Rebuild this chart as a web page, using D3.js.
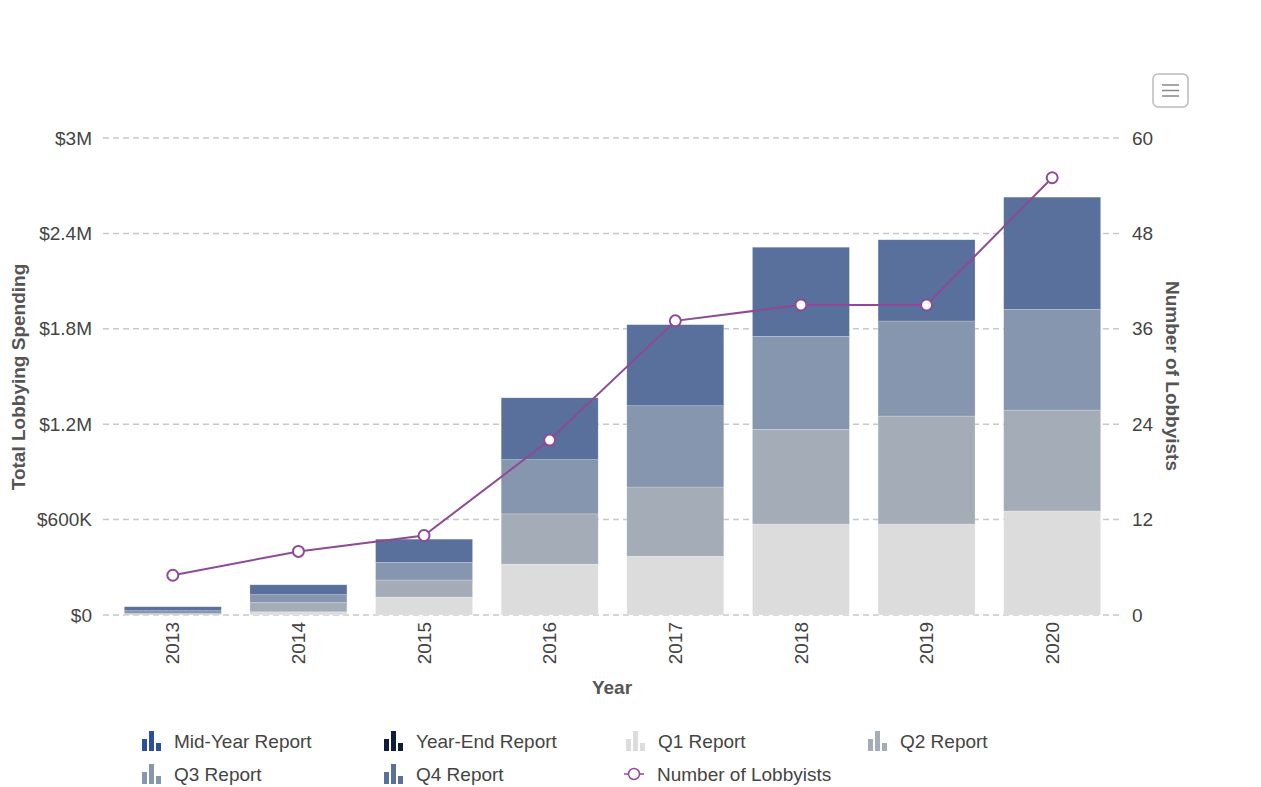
<!DOCTYPE html>
<html>
<head>
<meta charset="utf-8">
<script src="https://cdn.jsdelivr.net/npm/d3@7"></script>
<style>
  body { margin: 0; background: #fff; }
  svg { font-family: "Liberation Sans", Arial, Helvetica, sans-serif; }
</style>
</head>
<body>
<div id="chart"></div>
<script>
// data
const years = ["2013", "2014", "2015", "2016", "2017", "2018", "2019", "2020"];
const midYear = [0, 0, 0, 0, 0, 0, 0, 0];
const yearEnd = [0, 0, 0, 0, 0, 0, 0, 0];
const q1 = [3000, 20000, 113000, 320000, 370000, 572000, 572000, 654000];
const q2 = [8000, 58000, 107000, 316000, 435000, 596000, 679000, 635000];
const q3 = [16000, 50000, 111000, 341000, 511000, 585000, 598000, 633000];
const q4 = [25000, 62000, 146000, 389000, 510000, 560000, 511000, 706000];
const lobbyists = [5, 8, 10, 22, 37, 39, 39, 55];
const spendTicks = [0, 600000, 1200000, 1800000, 2400000, 3000000];
const countTicks = [0, 12, 24, 36, 48, 60];

const seriesNames = ["Mid-Year Report", "Year-End Report", "Q1 Report", "Q2 Report", "Q3 Report", "Q4 Report"];
const seriesColors = ["#2c5097", "#0f1d3b", "#dcdcdc", "#a4adb7", "#8696ae", "#58709b"];
const seriesData = [midYear, yearEnd, q1, q2, q3, q4];

const width = 1261, height = 787;
const svg = d3.select("#chart").append("svg")
    .attr("width", width)
    .attr("height", height);

const x = d3.scaleBand()
    .domain(years)
    .range([110, 1115])
    .paddingInner(0.228)
    .paddingOuter(0.114);

const yL = d3.scaleLinear().domain([0, 3000000]).range([615, 138]);
const yR = d3.scaleLinear().domain([0, 60]).range([615, 138]);

// gridlines
svg.append("g")
    .selectAll("line")
    .data(spendTicks)
    .enter()
    .append("line")
    .attr("x1", 103)
    .attr("x2", 1120)
    .attr("y1", d => yL(d))
    .attr("y2", d => yL(d))
    .attr("stroke", "#c8c8c8")
    .attr("stroke-width", 1.5)
    .attr("stroke-dasharray", "6,4");

// stacked bars
const rows = years.map((yr, i) => {
    const r = { year: yr };
    seriesNames.forEach((n, k) => { r[n] = seriesData[k][i]; });
    return r;
});
const stack = d3.stack().keys(seriesNames)(rows);

svg.append("g")
    .selectAll("g")
    .data(stack)
    .enter()
    .append("g")
    .attr("fill", (d, k) => seriesColors[k])
    .selectAll("rect")
    .data(d => d)
    .enter()
    .append("rect")
    .attr("x", d => x(d.data.year))
    .attr("width", x.bandwidth())
    .attr("y", d => yL(d[1]))
    .attr("height", d => yL(d[0]) - yL(d[1]))
    .attr("stroke", "#ffffff")
    .attr("stroke-opacity", 0.35)
    .attr("stroke-width", 0.6);

// line
const lineColor = "#8e4a97";
const line = d3.line()
    .x((d, i) => x(years[i]) + x.bandwidth() / 2)
    .y(d => yR(d));

svg.append("path")
    .datum(lobbyists)
    .attr("d", line)
    .attr("fill", "none")
    .attr("stroke", lineColor)
    .attr("stroke-width", 2);

svg.append("g")
    .selectAll("circle")
    .data(lobbyists)
    .enter()
    .append("circle")
    .attr("cx", (d, i) => x(years[i]) + x.bandwidth() / 2)
    .attr("cy", d => yR(d))
    .attr("r", 5.5)
    .attr("fill", "#fff")
    .attr("stroke", lineColor)
    .attr("stroke-width", 2);

// axes
const fmtSpend = d => d === 0 ? "$0" : d >= 1000000 ? "$" + d3.format("~g")(d / 1000000) + "M" : "$" + (d / 1000) + "K";

const leftAxis = svg.append("g")
    .attr("transform", "translate(95,0)")
    .call(d3.axisLeft(yL).tickValues(spendTicks).tickFormat(fmtSpend).tickSize(0));
leftAxis.select(".domain").remove();

const rightAxis = svg.append("g")
    .attr("transform", "translate(1129,0)")
    .call(d3.axisRight(yR).tickValues(countTicks).tickSize(0));
rightAxis.select(".domain").remove();

const bottomAxis = svg.append("g")
    .attr("transform", "translate(0,615)")
    .call(d3.axisBottom(x).tickSize(0));
bottomAxis.select(".domain").remove();
bottomAxis.selectAll("text")
    .attr("transform", "rotate(-90)")
    .attr("x", -7)
    .attr("y", 0)
    .attr("dy", "0.35em")
    .style("text-anchor", "end");

svg.selectAll(".tick text")
    .attr("fill", "#444")
    .style("font-size", "19px")
    .style("font-family", "'Liberation Sans', Arial, sans-serif");

// axis titles
svg.append("text")
    .attr("x", 612)
    .attr("y", 694)
    .attr("text-anchor", "middle")
    .attr("font-size", 19)
    .attr("font-weight", "bold")
    .attr("fill", "#555")
    .text("Year");

svg.append("text")
    .attr("transform", "translate(25,377) rotate(-90)")
    .attr("text-anchor", "middle")
    .attr("font-size", 19)
    .attr("font-weight", "bold")
    .attr("fill", "#555")
    .text("Total Lobbying Spending");

svg.append("text")
    .attr("transform", "translate(1166,376) rotate(90)")
    .attr("text-anchor", "middle")
    .attr("font-size", 19)
    .attr("font-weight", "bold")
    .attr("fill", "#555")
    .text("Number of Lobbyists");

// legend
const legendItems = seriesNames.map((n, k) => ({ name: n, color: seriesColors[k], type: "bar" }))
    .concat([{ name: "Number of Lobbyists", color: lineColor, type: "line" }]);

const legend = svg.append("g");
const item = legend.selectAll("g")
    .data(legendItems)
    .enter()
    .append("g")
    .attr("transform", (d, i) => `translate(${142 + (i % 4) * 242},${741 + Math.floor(i / 4) * 33})`);

const iconBars = [[0, 12], [7, 20], [14, 8]];
item.filter(d => d.type === "bar")
    .selectAll("rect")
    .data(d => iconBars.map(b => ({ b: b, color: d.color })))
    .enter()
    .append("rect")
    .attr("x", d => d.b[0])
    .attr("y", d => 10 - d.b[1])
    .attr("width", 5)
    .attr("height", d => d.b[1])
    .attr("fill", d => d.color);

const lineIcon = item.filter(d => d.type === "line");
lineIcon.append("line")
    .attr("x1", -2).attr("x2", 18)
    .attr("y1", 0).attr("y2", 0)
    .attr("stroke", lineColor)
    .attr("stroke-width", 1.5);
lineIcon.append("circle")
    .attr("cx", 8).attr("cy", 0).attr("r", 5.5)
    .attr("fill", "#fff")
    .attr("stroke", lineColor)
    .attr("stroke-width", 1.5);

item.append("text")
    .attr("x", d => d.type === "line" ? 31 : 32)
    .attr("y", 0)
    .attr("dy", "0.35em")
    .attr("font-size", 19)
    .attr("fill", "#444")
    .text(d => d.name);

// menu button
const menu = svg.append("g").attr("transform", "translate(1153,74)");
menu.append("rect")
    .attr("width", 35).attr("height", 33).attr("rx", 5)
    .attr("fill", "#fff")
    .attr("stroke", "#bbb")
    .attr("stroke-width", 1.5);
menu.selectAll("line")
    .data([11, 16.5, 22])
    .enter()
    .append("line")
    .attr("x1", 9).attr("x2", 26)
    .attr("y1", d => d).attr("y2", d => d)
    .attr("stroke", "#888")
    .attr("stroke-width", 1.5);
</script>
</body>
</html>
